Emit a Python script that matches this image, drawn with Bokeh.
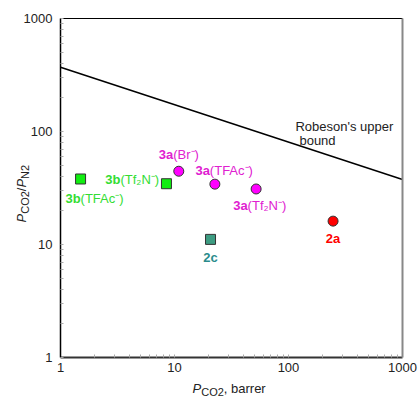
import math
from bokeh.plotting import figure
from bokeh.models import (ColumnDataSource, FixedTicker, PrintfTickFormatter, LogAxis, Label)
from bokeh.core.properties import value
from bokeh.embed import file_html
from bokeh.resources import INLINE

# ---------------- data ----------------
x_3b = [1.5, 8.5]
y_3b = [38.0, 34.5]
x_3a = [10.9, 22.6, 52.0]
y_3a = [44.5, 34.2, 31.0]
x_2a = [246.0]
y_2a = [16.1]
x_2c = [20.7]
y_2c = [11.1]

robeson_x = [1.0, 1000.0]
robeson_y = [370.0, 37.6]

label_bold = ["3b", "3b", "3a", "3a", "3a"]
label_rest = ["(TFAc\u207b)", "(Tf\u2082N\u207b)", "(Br\u207b)", "(TFAc\u207b)", "(Tf\u2082N\u207b)"]
simple_labels = ["2a", "2c"]

tick_values = [1, 10, 100, 1000]

# ---------------- styles / layout ----------------
FONT = "Liberation Sans"
C_3B, C_3B_TXT = "#11ee11", "#33dd33"
C_3A, C_3A_TXT = "#ff00ff", "#e020d0"
C_2A = "#ff0000"
C_2C, C_2C_TXT = "#3d9c82", "#2a8c8c"

W, H = 420, 396
# plot box in pixels: x 60..402 for 1..1000, y 357..18 for 1..1000
px_dec_x = (402 - 60) / 3.0
px_dec_y = (357 - 18) / 3.0
x_rng = (10 ** (-60 / px_dec_x), 10 ** (3 + (W - 402) / px_dec_x))
y_rng = (10 ** (-(H - 357) / px_dec_y), 10 ** (3 + 18 / px_dec_y))

p = figure(width=W, height=H, x_axis_type="log", y_axis_type="log",
           x_range=x_rng, y_range=y_rng,
           output_backend="svg", toolbar_location=None,
           min_border_left=0, min_border_right=0, min_border_top=0, min_border_bottom=0)
p.xgrid.visible = False
p.ygrid.visible = False
p.outline_line_color = None
p.background_fill_color = "white"
p.border_fill_color = "white"

minor = [m * d for d in tick_values[:-1] for m in range(2, 10)]
for ax in (p.xaxis[0], p.yaxis[0]):
    ax.fixed_location = tick_values[0]
    ax.bounds = (tick_values[0], tick_values[-1])
    ax.ticker = FixedTicker(ticks=tick_values, minor_ticks=minor)
    ax.formatter = PrintfTickFormatter(format="%d")
    ax.major_tick_in = 3
    ax.major_tick_out = 0
    ax.minor_tick_in = 3
    ax.minor_tick_out = 0
    ax.major_tick_line_color = "#aaaaaa"
    ax.minor_tick_line_color = "#aaaaaa"
    ax.major_label_text_font = FONT
    ax.major_label_text_font_size = "13px"
    ax.major_label_text_color = "#222222"
p.yaxis[0].axis_line_color = "black"
p.yaxis[0].axis_line_width = 1.5
p.yaxis[0].major_label_standoff = 8
p.xaxis[0].axis_line_color = "#333333"
p.xaxis[0].axis_line_width = 2
p.xaxis[0].major_label_standoff = 5

right = LogAxis(ticker=FixedTicker(ticks=[]), major_label_text_font_size="0px",
                fixed_location=tick_values[-1], bounds=(tick_values[0], tick_values[-1]),
                axis_line_color="#888888", axis_line_width=2,
                major_tick_line_color=None, minor_tick_line_color=None)
p.add_layout(right, "right")
top = LogAxis(ticker=FixedTicker(ticks=[]), major_label_text_font_size="0px",
              fixed_location=tick_values[-1], bounds=(tick_values[0], tick_values[-1]),
              axis_line_color="black", axis_line_width=1.2,
              major_tick_line_color=None, minor_tick_line_color=None)
p.add_layout(top, "above")

# Robeson line
p.line(robeson_x, robeson_y, line_color="black", line_width=1.5)

# markers
p.scatter(x_3b, y_3b, marker="square", size=10, fill_color=C_3B, line_color="#333333", line_width=1)
p.scatter(x_2c, y_2c, marker="square", size=10, fill_color=C_2C, line_color="#333333", line_width=1)
p.scatter(x_3a, y_3a, marker="circle", size=10, fill_color=C_3A, line_color="#333333", line_width=1)
p.scatter(x_2a, y_2a, marker="circle", size=10, fill_color=C_2A, line_color="#333333", line_width=1)

# point labels (compound: bold + normal)
lab_x = x_3b + x_3a
lab_y = y_3b + y_3a
lab_xoff = [0, -46, -5.5, -5, -8.5]
lab_yoff = [19.5, -4, -17, -14, 17]
lab_col = [C_3B_TXT, C_3B_TXT, C_3A_TXT, C_3A_TXT, C_3A_TXT]
src = ColumnDataSource(dict(x=lab_x, y=lab_y, b=label_bold, r=label_rest,
                            xo=lab_xoff, yo=lab_yoff, c=lab_col))
p.text(x="x", y="y", text="b", x_offset="xo", y_offset="yo", text_color="c",
       text_font=value(FONT), text_font_size="13px", text_font_style="bold",
       text_align="right", text_baseline="middle", source=src)
p.text(x="x", y="y", text="r", x_offset="xo", y_offset="yo", text_color="c",
       text_font=value(FONT), text_font_size="13px",
       text_align="left", text_baseline="middle", source=src)

src2 = ColumnDataSource(dict(x=x_2a + x_2c, y=y_2a + y_2c, t=simple_labels,
                             c=[C_2A, C_2C_TXT], yo=[17, 18]))
p.text(x="x", y="y", text="t", y_offset="yo", text_color="c",
       text_font=value(FONT), text_font_size="13px", text_font_style="bold",
       text_align="center", text_baseline="middle", source=src2)

# Robeson annotation
p.add_layout(Label(x=115, y=111, text="Robeson's upper", text_font=FONT,
                   text_font_size="13px", text_color="#222222", text_baseline="alphabetic"))
p.add_layout(Label(x=115, y=111, y_offset=-14, x_offset=4, text="bound", text_font=FONT,
                   text_font_size="13px", text_color="#222222", text_baseline="alphabetic"))

# axis titles composed of pieces
def piece(text, xo, yo, size, style="normal", angle=0.0, x=1, y=1):
    p.add_layout(Label(x=x, y=y, x_offset=xo, y_offset=yo, text=text, angle=angle,
                       text_font=FONT, text_font_size=size, text_font_style=style,
                       text_color="#222222", text_baseline="alphabetic", text_align="left"))

# x title: P_CO2, barrer
piece("P", 132, -31, "13px", "italic")
piece("CO2", 140.7, -34, "11px")
piece(", barrer", 163.3, -31, "13px")

# y title: P_CO2/P_N2 (rotated)
a = math.pi / 2
piece("P", -39, 22, "13px", "italic", a, 1, 10)
piece("CO2", -36, 22 + 8.7, "11px", "normal", a, 1, 10)
piece("/", -39, 22 + 31.3, "13px", "normal", a, 1, 10)
piece("P", -39, 22 + 34.9, "13px", "italic", a, 1, 10)
piece("N2", -36, 22 + 43.6, "11px", "normal", a, 1, 10)

open("out.html", "w").write(file_html(p, INLINE))
